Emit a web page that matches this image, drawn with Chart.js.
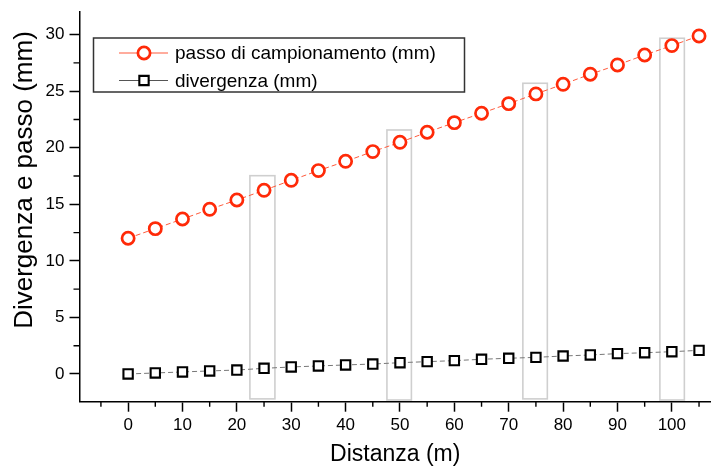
<!DOCTYPE html>
<html>
<head>
<meta charset="utf-8">
<script src="https://cdn.jsdelivr.net/npm/chart.js@4.4.1/dist/chart.umd.min.js"></script>
<style>
  html, body { margin: 0; padding: 0; background: #fff; }
  #wrap { width: 711px; height: 468px; position: relative; }
</style>
</head>
<body>
<div id="wrap"><canvas id="c"></canvas></div>
<script>
// distance along the survey (m)
const distanza = [0, 5, 10, 15, 20, 25, 30, 35, 40, 45, 50, 55, 60, 65, 70, 75, 80, 85, 90, 95, 100, 105];
// sampling step (mm)
const passo = [12.0, 12.85, 13.7, 14.56, 15.38, 16.24, 17.12, 17.98, 18.8, 19.66, 20.48,
               21.37, 22.22, 23.05, 23.9, 24.76, 25.61, 26.5, 27.32, 28.2, 29.03, 29.88];
// divergence (mm)
const divergenza = [0.0, 0.09, 0.18, 0.27, 0.35, 0.5, 0.62, 0.71, 0.8, 0.88, 1.0,
                    1.09, 1.18, 1.3, 1.39, 1.47, 1.59, 1.68, 1.8, 1.88, 1.97, 2.09];

// grey highlight boxes (data units)
const boxFrom = [22.4, 47.6, 72.6, 97.8];
const boxTo = [27.0, 52.1, 77.1, 102.3];
const boxTop = [17.53, 21.57, 25.7, 29.68];
const boxBottom = [-2.2, -2.3, -2.2, -2.3];

const xTicks = [-5, 0, 5, 10, 15, 20, 25, 30, 35, 40, 45, 50, 55, 60, 65, 70, 75, 80, 85, 90, 95, 100, 105];
const yTicks = [0, 2.5, 5, 7.5, 10, 12.5, 15, 17.5, 20, 22.5, 25, 27.5, 30];

const FONT = "'Liberation Sans', Arial, sans-serif";
const RED = '#ff2a08';

const boxes = {
  id: 'boxes',
  beforeDatasetsDraw(chart){
    const {ctx, scales:{x, y}} = chart;
    ctx.save();
    ctx.strokeStyle = '#cfcfcf';
    ctx.lineWidth = 1.6;
    boxFrom.forEach((v,i)=>{
      const x0 = x.getPixelForValue(v), x1 = x.getPixelForValue(boxTo[i]);
      const y0 = y.getPixelForValue(boxTop[i]), y1 = y.getPixelForValue(boxBottom[i]);
      ctx.strokeRect(x0, y0, x1-x0, y1-y0);
    });
    ctx.restore();
  }
};

// short minor ticks (major ones come from the scales)
const minorTicks = {
  id: 'minorTicks',
  afterDraw(chart){
    const {ctx, chartArea, scales:{x, y}} = chart;
    ctx.save();
    ctx.strokeStyle = '#000';
    ctx.lineWidth = 1.4;
    ctx.beginPath();
    xTicks.filter(v=>v%10!==0).forEach(v=>{
      const px = x.getPixelForValue(v);
      ctx.moveTo(px, chartArea.bottom); ctx.lineTo(px, chartArea.bottom+5);
    });
    yTicks.filter(v=>v%5!==0).forEach(v=>{
      const py = y.getPixelForValue(v);
      ctx.moveTo(chartArea.left, py); ctx.lineTo(chartArea.left-6, py);
    });
    ctx.stroke();
    ctx.restore();
  }
};

const yTitle = {
  id: 'yTitle',
  afterDraw(chart){
    const {ctx} = chart;
    ctx.save();
    ctx.translate(25, 180);
    ctx.rotate(-Math.PI/2);
    ctx.font = `26px ${FONT}`;
    ctx.fillStyle = '#000';
    ctx.textAlign = 'center';
    ctx.textBaseline = 'middle';
    ctx.fillText('Divergenza e passo (mm)', 0, 0);
    ctx.restore();
  }
};

const lineLegend = {
  id: 'lineLegend',
  afterDraw(chart){
    const {ctx} = chart;
    const bx = 93.5, by = 38, bw = 371, bh = 54;
    ctx.save();
    ctx.fillStyle = '#fff';
    ctx.fillRect(bx, by, bw, bh);
    ctx.strokeStyle = '#333';
    ctx.lineWidth = 1.5;
    ctx.strokeRect(bx, by, bw, bh);
    chart.data.datasets.forEach((ds,i)=>{
      const cy = 53 + i*27.5;
      ctx.strokeStyle = ds.legendLine;
      ctx.lineWidth = 1.2;
      ctx.beginPath();
      ctx.moveTo(119, cy); ctx.lineTo(168, cy);
      ctx.stroke();
      ctx.fillStyle = '#fff';
      ctx.strokeStyle = ds.pointBorderColor;
      ctx.lineWidth = ds.pointBorderWidth;
      ctx.beginPath();
      if(ds.pointStyle === 'circle'){
        ctx.arc(144, cy, ds.pointRadius, 0, Math.PI*2);
      } else {
        const s = ds.pointRadius*Math.SQRT1_2;
        ctx.rect(144-s, cy-s, 2*s, 2*s);
      }
      ctx.fill(); ctx.stroke();
      ctx.fillStyle = '#000';
      ctx.font = `19px ${FONT}`;
      ctx.textBaseline = 'middle';
      ctx.textAlign = 'left';
      ctx.fillText(ds.label, 175, cy+1);
    });
    ctx.restore();
  }
};

new Chart(document.getElementById('c'), {
  type: 'line',
  data: {
    datasets: [
      {
        label: 'passo di campionamento (mm)',
        data: distanza.map((d,i)=>({x:d, y:passo[i]})),
        borderColor: '#ff5a3c', borderWidth: 1, borderDash: [5,3],
        legendLine: '#ff5a3c',
        pointStyle: 'circle', pointRadius: 6.1, pointBorderWidth: 2.7,
        pointBorderColor: RED, pointBackgroundColor: '#fff'
      },
      {
        label: 'divergenza (mm)',
        data: distanza.map((d,i)=>({x:d, y:divergenza[i]})),
        borderColor: '#777', borderWidth: 1, borderDash: [5,3],
        legendLine: '#555',
        pointStyle: 'rect', pointRadius: 6.6, pointBorderWidth: 2.1,
        pointBorderColor: '#000', pointBackgroundColor: '#fff'
      }
    ]
  },
  options: {
    responsive: true, maintainAspectRatio: false, animation: false,
    layout: {autoPadding: false, padding: {top: 12, right: 0, left: 0, bottom: 0}},
    plugins: {legend: {display: false}, tooltip: {enabled: false}},
    elements: {line: {tension: 0}},
    scales: {
      x: {
        type: 'linear', min: -8.94, max: 107.2,
        afterBuildTicks: s => { s.ticks = xTicks.map(v=>({value:v})); },
        afterFit: s => { s.height = 66.3; s.paddingLeft = 0; s.paddingRight = 0; },
        border: {color: '#000', width: 1.5},
        grid: {drawOnChartArea: false, tickLength: 10, tickWidth: 1.5,
               tickColor: c => (c.tick && c.tick.value%10===0) ? '#000' : 'rgba(0,0,0,0)'},
        ticks: {color: '#000', font: {family: FONT, size: 17}, padding: 3, maxRotation: 0, autoSkip: false,
                callback: v => (v%10===0 && v>=0 && v<=100) ? String(v) : ''},
        title: {display: true, text: 'Distanza (m)', color: '#000', font: {family: FONT, size: 23}, padding: {top: 0, bottom: 0}}
      },
      y: {
        min: -2.45, max: 32,
        afterBuildTicks: s => { s.ticks = yTicks.map(v=>({value:v})); },
        afterFit: s => { s.width = 79.5; s.paddingTop = 0; s.paddingBottom = 0; },
        border: {color: '#000', width: 1.5},
        grid: {drawOnChartArea: false, tickLength: 10, tickWidth: 1.5,
               tickColor: c => (c.tick && c.tick.value%5===0) ? '#000' : 'rgba(0,0,0,0)'},
        ticks: {color: '#000', font: {family: FONT, size: 17}, padding: 5, autoSkip: false,
                callback: v => (v%5===0) ? String(v) : ''}
      }
    }
  },
  plugins: [boxes, minorTicks, yTitle, lineLegend]
});
</script>
</body>
</html>
